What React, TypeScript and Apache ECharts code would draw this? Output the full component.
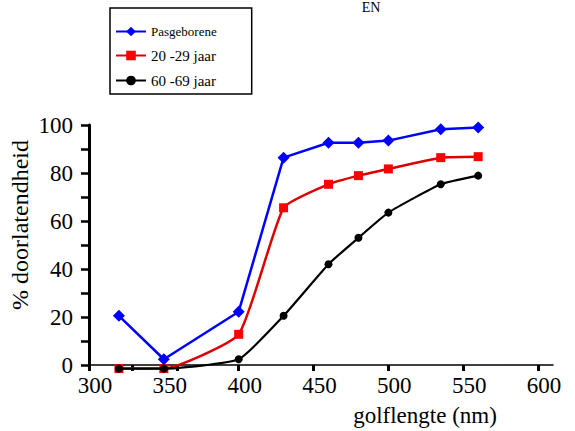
import React, { useEffect, useRef } from "react";
import * as echarts from "echarts";

const wavelengths = [320, 350, 400, 430, 460, 480, 500, 535, 560];
const pasgeborene = [20.5, 2.4, 22.2, 86.4, 92.6, 92.6, 93.5, 98.2, 99];
const jaar20_29 = [-1.5, -1.5, 12.8, 65.5, 75.3, 78.9, 81.7, 86.4, 86.8];
const jaar60_69 = [-1.5, -1.5, 2.4, 20.5, 42, 53, 63.5, 75.3, 78.9];
const xTickValues = [300, 329, 359, 400, 450, 500, 550, 600];
const xLabelValues = [300, 350, 400, 450, 500, 550, 600];
const seriesNames = ["Pasgeborene", "20 -29 jaar", "60 -69 jaar"];

const FONT = "Liberation Serif";

export default function App() {
  const ref = useRef<HTMLDivElement>(null);
  useEffect(() => {
    if (!ref.current) return;
    const chart = echarts.init(ref.current, null, { renderer: "svg" });
    const pairs = (ys: number[]) => wavelengths.map((x, i) => [x, ys[i]]);
    chart.setOption({
      animation: false,
      grid: { left: 89, right: 22, top: 125, bottom: 66 },
      legend: {
        data: seriesNames,
        orient: "vertical",
        left: 110,
        top: 8,
        itemWidth: 30,
        itemHeight: 12,
        itemGap: 10,
        padding: [17, 35, 6, 5],
        borderColor: "#000",
        borderWidth: 1.5,
        formatter: (name: string) =>
          name === "Pasgeborene" ? `{a|${name}}` : `{b|${name}}`,
        textStyle: {
          fontFamily: FONT,
          color: "#000",
          rich: {
            a: { fontFamily: FONT, fontSize: 13, color: "#000" },
            b: { fontFamily: FONT, fontSize: 15, color: "#000" },
          },
        },
      },
      xAxis: {
        type: "value",
        min: 300,
        max: 610,
        interval: 50,
        splitLine: { show: false },
        axisLine: { onZero: true, lineStyle: { color: "#000", width: 1.5 } },
        axisTick: {
          show: true,
          customValues: xTickValues,
          length: 6,
          lineStyle: { color: "#000", width: 3 },
        },
        axisLabel: {
          customValues: xLabelValues,
          fontFamily: FONT,
          fontSize: 23,
          color: "#000",
          margin: 9,
          padding: [0, 0, 0, 12],
        },
      },
      yAxis: {
        type: "value",
        min: 0,
        max: 100,
        interval: 10,
        splitLine: { show: false },
        axisLine: { lineStyle: { color: "#000", width: 3 } },
        axisTick: { length: 8, lineStyle: { color: "#000", width: 2.5 } },
        axisLabel: {
          fontFamily: FONT,
          fontSize: 23,
          color: "#000",
          margin: 16,
          padding: [8, 0, 0, 0],
          formatter: (v: number) => (v % 20 === 0 ? String(v) : ""),
        },
      },
      graphic: [
        {
          type: "text",
          x: 425,
          y: 415,
          style: {
            text: "golflengte (nm)",
            fontFamily: FONT,
            fontSize: 23,
            fill: "#000",
            align: "center",
            verticalAlign: "middle",
          },
        },
        {
          type: "text",
          x: 20,
          y: 225,
          rotation: Math.PI / 2,
          style: {
            text: "% doorlatendheid",
            fontFamily: FONT,
            fontSize: 24,
            fill: "#000",
            align: "center",
            verticalAlign: "middle",
          },
        },
        {
          type: "text",
          x: 371,
          y: 0,
          style: {
            text: "EN",
            fontFamily: FONT,
            fontSize: 14,
            fill: "#000",
            align: "center",
            verticalAlign: "top",
          },
        },
      ],
      series: [
        {
          name: "20 -29 jaar",
          type: "line",
          data: pairs(jaar20_29),
          symbol: "rect",
          symbolSize: 9,
          clip: false,
          smooth: 0.15,
          lineStyle: { color: "#dd0000", width: 2.5 },
          itemStyle: { color: "#ff0000" },
          z: 2,
        },
        {
          name: "Pasgeborene",
          type: "line",
          data: pairs(pasgeborene),
          symbol: "diamond",
          symbolSize: 12,
          clip: false,
          lineStyle: { color: "#0000ff", width: 2.5 },
          itemStyle: { color: "#0000ff" },
          z: 3,
        },
        {
          name: "60 -69 jaar",
          type: "line",
          data: pairs(jaar60_69),
          symbol: "circle",
          symbolSize: 8,
          clip: false,
          smooth: 0.15,
          lineStyle: { color: "#000", width: 2.2 },
          itemStyle: { color: "#000" },
          z: 4,
        },
      ],
    });
    return () => chart.dispose();
  }, []);
  return (
    <div
      ref={ref}
      style={{ position: "absolute", left: 0, top: 0, width: 575, height: 431, background: "#fff" }}
    />
  );
}
